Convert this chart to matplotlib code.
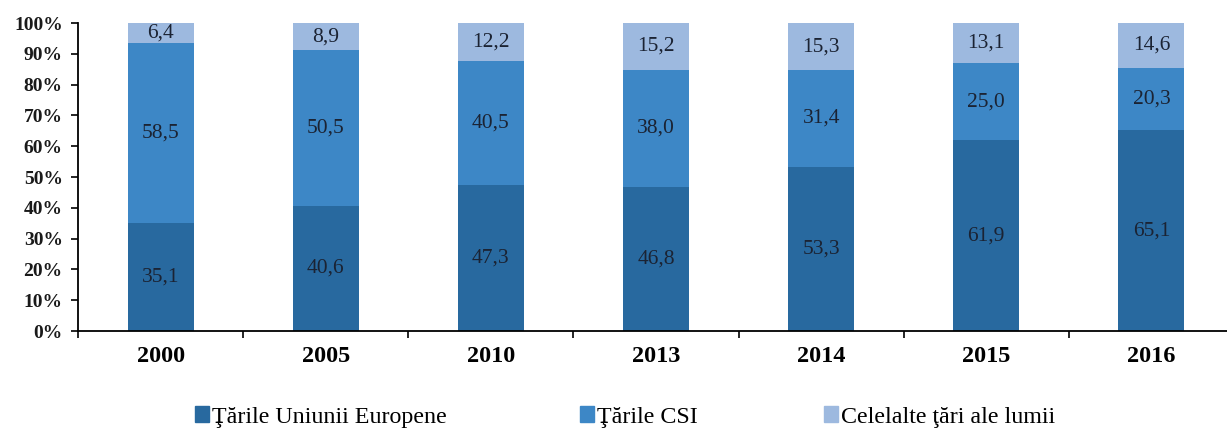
import matplotlib
matplotlib.use("Agg")
import matplotlib.pyplot as plt
from matplotlib.patches import Patch
import numpy as np

years = ["2000", "2005", "2010", "2013", "2014", "2015", "2016"]
eu = [35.1, 40.6, 47.3, 46.8, 53.3, 61.9, 65.1]
csi = [58.5, 50.5, 40.5, 38.0, 31.4, 25.0, 20.3]
other = [6.4, 8.9, 12.2, 15.2, 15.3, 13.1, 14.6]
series_names = ["Ţările Uniunii Europene", "Ţările CSI", "Celelalte ţări ale lumii"]
colors = ["#28699F", "#3D87C6", "#9DB9DF"]

plt.rcParams['font.family'] = ['Liberation Serif', 'DejaVu Serif']

fig = plt.figure(figsize=(12.27, 4.30), dpi=100)
ax = fig.add_axes([78/1227, 99/430, (1234-78)/1227, 308/430])

x = np.arange(len(years))
w = 0.4
bottom = np.zeros(len(years))
for vals, c in zip([eu, csi, other], colors):
    vals = np.array(vals)
    ax.bar(x, vals, w, bottom=bottom, color=c, edgecolor='none')
    for xi, b, v in zip(x, bottom, vals):
        ax.text(xi, b + v/2, f"{v:.1f}".replace('.', ','), ha='center', va='center',
                fontsize=15.5, color='#1B2333')
    bottom += vals

ax.set_xlim(-0.5, len(years) - 0.5)
ax.set_ylim(0, 100)
ax.set_yticks(np.arange(0, 101, 10))
ax.set_yticklabels([f"{v}%" for v in range(0, 101, 10)], fontsize=14, fontweight='bold', color='#1a1a1a')
ax.set_xticks(x)
ax.set_xticklabels(years, fontsize=17.5, fontweight='bold')
ax.tick_params(axis='x', length=0, pad=11)
ax.set_xticks(np.arange(-0.5, len(years), 1), minor=True)
ax.tick_params(axis='x', which='minor', length=5, width=1.2, direction='out')
ax.tick_params(axis='y', length=5, width=1.2, direction='out', pad=6)
for s in ['top', 'right']:
    ax.spines[s].set_visible(False)
for s in ['left', 'bottom']:
    ax.spines[s].set_linewidth(1.3)

positions = [195, 580, 824]
for name, c, px in zip(series_names, colors, positions):
    fig.legend(handles=[Patch(color=c)], labels=[name], loc='center left',
               bbox_to_anchor=(px/1227, 1 - 417/430), frameon=False, fontsize=17.3,
               handlelength=0.6, handleheight=0.6, handletextpad=0.12, borderpad=0, borderaxespad=0)

fig.savefig("out.png", dpi=100)
